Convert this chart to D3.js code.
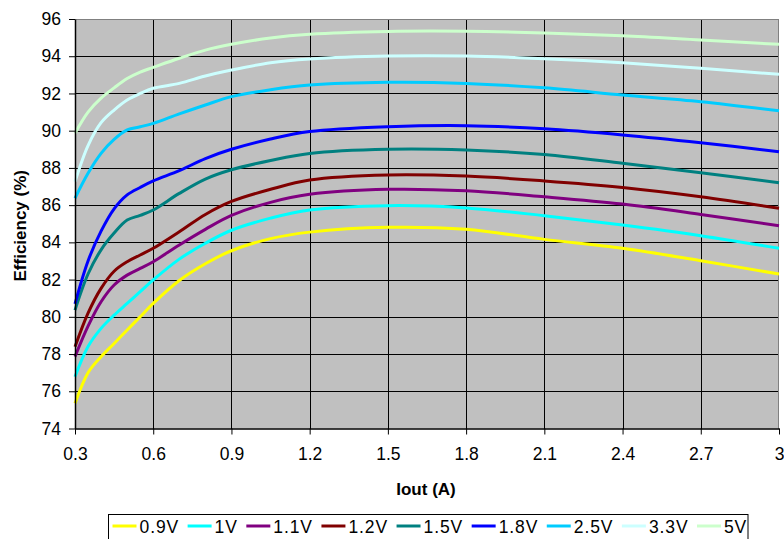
<!DOCTYPE html>
<html>
<head>
<meta charset="utf-8">
<script src="https://cdn.jsdelivr.net/npm/d3@7"></script>
<style>
  html, body { margin: 0; padding: 0; background: #fff; }
  svg { display: block; font-family: "Liberation Sans", Arial, sans-serif; }
</style>
</head>
<body>
<svg id="chart" width="784" height="539"></svg>
<script>
// ---- data ----
const iout = [0.3, 0.35, 0.4, 0.45, 0.5, 0.55, 0.6, 0.7, 0.8, 0.9, 1.05, 1.2, 1.5, 1.8, 2.1, 2.4, 2.7, 3.0];
const eff09 = [75.35, 77.0, 77.86, 78.57, 79.29, 80.0, 80.72, 81.95, 82.85, 83.55, 84.2, 84.55, 84.81, 84.7, 84.16, 83.68, 83.01, 82.3];
const eff10 = [76.78, 78.4, 79.38, 80.09, 80.72, 81.35, 81.98, 83.1, 83.95, 84.65, 85.3, 85.74, 85.97, 85.85, 85.43, 84.93, 84.36, 83.68];
const eff11 = [77.86, 79.5, 80.81, 81.71, 82.24, 82.6, 82.96, 83.86, 84.7, 85.45, 86.15, 86.58, 86.85, 86.77, 86.45, 86.06, 85.5, 84.89];
const eff12 = [78.39, 80.2, 81.53, 82.45, 82.96, 83.32, 83.68, 84.57, 85.5, 86.2, 86.85, 87.35, 87.62, 87.56, 87.3, 86.95, 86.45, 85.83];
const eff15 = [80.36, 82.3, 83.6, 84.5, 85.2, 85.45, 85.74, 86.63, 87.4, 87.9, 88.4, 88.78, 89.0, 88.96, 88.72, 88.25, 87.74, 87.2];
const eff18 = [80.7, 83.0, 84.6, 85.8, 86.55, 86.95, 87.3, 87.85, 88.5, 89.0, 89.55, 89.95, 90.21, 90.27, 90.1, 89.77, 89.35, 88.87];
const eff25 = [86.37, 87.71, 88.78, 89.53, 90.04, 90.21, 90.39, 90.9, 91.38, 91.83, 92.2, 92.45, 92.6, 92.54, 92.3, 91.92, 91.56, 91.07];
const eff33 = [87.26, 89.2, 90.43, 91.11, 91.65, 92.0, 92.28, 92.54, 92.94, 93.26, 93.65, 93.85, 94.01, 94.01, 93.87, 93.65, 93.35, 93.03];
const eff50 = [89.86, 91.0, 91.75, 92.3, 92.8, 93.15, 93.4, 93.89, 94.33, 94.64, 94.98, 95.18, 95.33, 95.34, 95.25, 95.1, 94.87, 94.64];
const seriesNames = ["0.9V", "1V", "1.1V", "1.2V", "1.5V", "1.8V", "2.5V", "3.3V", "5V"];
const seriesValues = [eff09, eff10, eff11, eff12, eff15, eff18, eff25, eff33, eff50];
const seriesColors = ["#ffff00", "#00ffff", "#800080", "#800000", "#008080", "#0000ff", "#00ccff", "#ccffff", "#ccffcc"];
const xTicks = [0.3, 0.6, 0.9, 1.2, 1.5, 1.8, 2.1, 2.4, 2.7, 3.0];
const yTicks = [74, 76, 78, 80, 82, 84, 86, 88, 90, 92, 94, 96];
const xTitle = "Iout (A)";
const yTitle = "Efficiency (%)";

// ---- layout ----
const svg = d3.select("#chart");
const plot = { left: 75, right: 779, top: 19, bottom: 428.5 };
const x = d3.scaleLinear().domain([0.3, 3.0]).range([plot.left, plot.right]);
const y = d3.scaleLinear().domain([74, 96]).range([plot.bottom, plot.top]);

// plot background
svg.append("rect")
  .attr("x", plot.left).attr("y", plot.top)
  .attr("width", plot.right - plot.left).attr("height", plot.bottom - plot.top)
  .attr("fill", "#c0c0c0");

// gridlines
const grid = svg.append("g").attr("stroke", "#000").attr("stroke-width", 1).attr("shape-rendering", "crispEdges");
grid.selectAll(".hg").data(yTicks.filter(d => d > 74 && d < 96)).join("line")
  .attr("x1", plot.left).attr("x2", plot.right)
  .attr("y1", d => Math.round(y(d)) + 0.5).attr("y2", d => Math.round(y(d)) + 0.5);
grid.selectAll(".vg").data(xTicks.filter(d => d > 0.3 && d < 3.0)).join("line")
  .attr("y1", plot.top).attr("y2", plot.bottom)
  .attr("x1", d => Math.round(x(d)) + 0.5).attr("x2", d => Math.round(x(d)) + 0.5);

// top and right border (gray)
svg.append("path")
  .attr("d", `M${plot.left},${plot.top + 0.5}H${plot.right - 0.5}V${plot.bottom}`)
  .attr("fill", "none").attr("stroke", "#808080").attr("stroke-width", 1.5)
  .attr("shape-rendering", "crispEdges");

// lines
const line = d3.line()
  .x(d => x(d[0])).y(d => y(d[1]))
  .curve(d3.curveCatmullRom.alpha(0.5));
const lines = svg.append("g");
seriesValues.forEach((vals, i) => {
  lines.append("path")
    .datum(iout.map((v, k) => [v, vals[k]]))
    .attr("d", line)
    .attr("fill", "none")
    .attr("stroke", seriesColors[i])
    .attr("stroke-width", 3)
    .attr("stroke-linejoin", "round");
});

// axes
const xAxis = d3.axisBottom(x).tickValues(xTicks)
  .tickFormat(d => d === 3 ? "3" : d3.format(".1f")(d))
  .tickSize(6).tickSizeOuter(0).tickPadding(13);
const gx = svg.append("g").attr("transform", `translate(0,${plot.bottom})`).call(xAxis);
gx.select(".domain").attr("stroke", "#000").attr("stroke-width", 1.5);
gx.selectAll(".tick line").attr("stroke", "#000");
gx.selectAll(".tick text").attr("font-size", 17.5).attr("fill", "#000")
  .attr("font-family", "Liberation Sans, Arial, sans-serif");

const yAxis = d3.axisLeft(y).tickValues(yTicks).tickSize(6).tickSizeOuter(0).tickPadding(8);
const gy = svg.append("g").attr("transform", `translate(${plot.left},0)`).call(yAxis);
gy.select(".domain").attr("stroke", "#000").attr("stroke-width", 1.5);
gy.selectAll(".tick line").attr("stroke", "#000");
gy.selectAll(".tick text").attr("font-size", 17.5).attr("fill", "#000")
  .attr("font-family", "Liberation Sans, Arial, sans-serif");

// titles
svg.append("text")
  .attr("x", (plot.left + plot.right) / 2 - 1).attr("y", 495)
  .attr("text-anchor", "middle").attr("font-size", 17).attr("font-weight", "bold")
  .text(xTitle);
svg.append("text")
  .attr("transform", `translate(26,${(plot.top + plot.bottom) / 2 + 2}) rotate(-90)`)
  .attr("text-anchor", "middle").attr("font-size", 17).attr("font-weight", "bold")
  .text(yTitle);

// legend
const legend = svg.append("g");
const legX = 108.5, legY = 514.5, sampleW = 24;
let cx = legX + 4;
const items = legend.append("g");
seriesNames.forEach((name, i) => {
  const g = items.append("g");
  g.append("line")
    .attr("x1", cx).attr("x2", cx + sampleW)
    .attr("y1", legY + 11.5).attr("y2", legY + 11.5)
    .attr("stroke", seriesColors[i]).attr("stroke-width", 3);
  const t = g.append("text")
    .attr("x", cx + sampleW + 3).attr("y", legY + 18.5)
    .attr("font-size", 17.5)
    .style("letter-spacing", "0.9px")
    .text(name);
  const w = t.node().getComputedTextLength();
  cx += sampleW + 3 + w + 8.5;
});
legend.insert("rect", ":first-child")
  .attr("x", legX).attr("y", legY)
  .attr("width", 748 - legX).attr("height", 40)
  .attr("fill", "#fff").attr("stroke", "#000").attr("stroke-width", 1);
</script>
</body>
</html>
